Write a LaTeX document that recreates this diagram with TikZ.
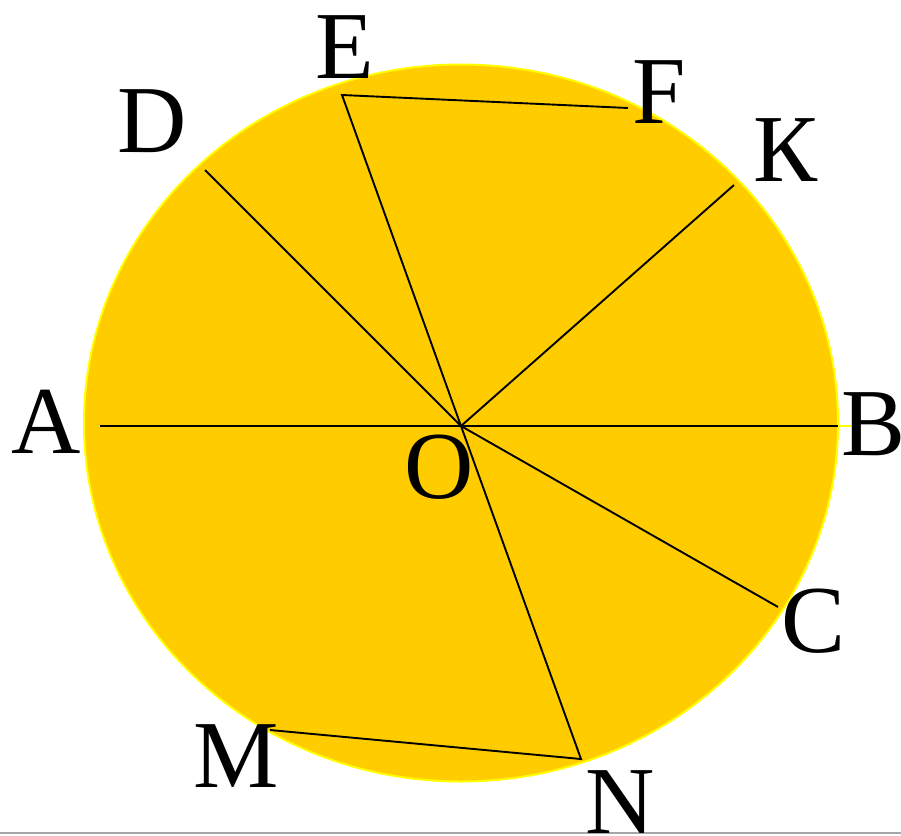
\documentclass[tikz,border=0pt]{standalone}
\usepackage{fontspec}
\setmainfont{Liberation Serif}
\definecolor{fillY}{HTML}{FFCC00}
\definecolor{edgeY}{HTML}{FFFF00}
\begin{document}
\begin{tikzpicture}[x=1pt,y=-1pt,
  seg/.style={line width=1.9pt,black},
  lbl/.style={anchor=base,inner sep=0pt,font=\fontsize{96}{96}\selectfont}]
\useasboundingbox (0,0) rectangle (901,835);
\fill[white] (0,0) rectangle (901,835);
\draw[gray!70,line width=2pt] (0,833) -- (901,833);
\filldraw[fill=fillY,draw=edgeY,line width=2pt] (461,423) ellipse [x radius=377, y radius=358.5];
\coordinate (O) at (461,426);
\coordinate (A) at (100,426);
\coordinate (B) at (838,426);
\coordinate (Bx) at (853,426);
\coordinate (D) at (205,170);
\coordinate (E) at (342,95);
\coordinate (F) at (628,108);
\coordinate (K) at (734,185);
\coordinate (C) at (778,607);
\coordinate (N) at (581,759);
\coordinate (M) at (270,730);
\draw[edgeY,line width=1.5pt] (B) -- (Bx);
\draw[seg] (A) -- (B);
\draw[seg] (O) -- (D);
\draw[seg] (O) -- (E) -- (F);
\draw[seg] (O) -- (K);
\draw[seg] (O) -- (C);
\draw[seg] (O) -- (N) -- (M);
\node[lbl] (lE) at (345,78) {E};
\node[lbl] (lF) at (659,123) {F};
\node[lbl] (lK) at (786,181) {К};
\node[lbl] (lD) at (152,152) {D};
\node[lbl] (lA) at (46,453) {A};
\node[lbl] (lB) at (874,455) {B};
\node[lbl] (lO) at (439,498) {O};
\node[lbl] (lC) at (814,652) {C};
\node[lbl] (lM) at (236,787) {M};
\node[lbl] (lN) at (620,833) {N};
\end{tikzpicture}
\end{document}
